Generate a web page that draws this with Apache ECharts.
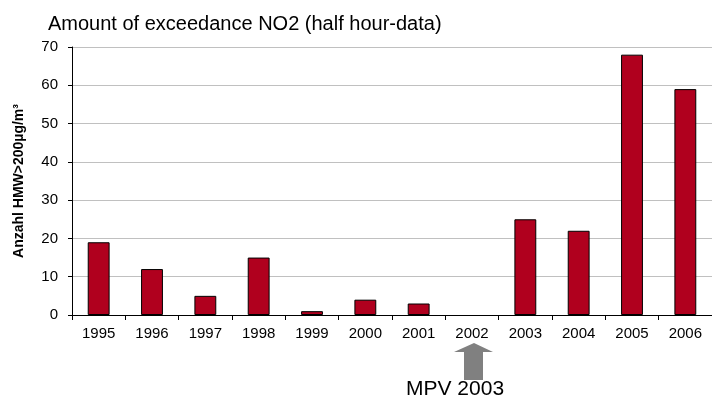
<!DOCTYPE html>
<html>
<head>
<meta charset="utf-8">
<script src="https://cdn.jsdelivr.net/npm/echarts@6/dist/echarts.min.js"></script>
<style>
  html, body { margin: 0; padding: 0; background: #fff; }
  #chart { width: 712px; height: 406px; }
</style>
</head>
<body>
<div id="chart"></div>
<script>
// years on the x axis
var years = ['1995', '1996', '1997', '1998', '1999', '2000', '2001', '2002', '2003', '2004', '2005', '2006'];
// number of half-hour values above 200 µg/m³
var exceedances = [19, 12, 5, 15, 1, 4, 3, 0, 25, 22, 68, 59];
var yTicks = [0, 10, 20, 30, 40, 50, 60, 70];
var markYear = '2002';

var chart = echarts.init(document.getElementById('chart'));

// a zero bar has no outline in the original
var barData = exceedances.map(function(v) {
    return v === 0 ? { value: v, itemStyle: { borderWidth: 0 } } : v;
});

var option = {
    animation: false,
    title: {
        text: 'Amount of exceedance NO2 (half hour-data)',
        left: 43,
        top: 9,
        textStyle: { fontFamily: 'Liberation Sans, Arial', fontSize: 20, fontWeight: 'normal', color: '#000' }
    },
    grid: { left: 72, top: 47, bottom: 91, right: -6 },
    xAxis: {
        type: 'category',
        data: years,
        axisLine: { lineStyle: { color: '#000', width: 1 } },
        axisTick: { show: true, alignWithLabel: false, length: 5, lineStyle: { color: '#000' } },
        axisLabel: { color: '#000', fontFamily: 'Liberation Sans, Arial', fontSize: 15, margin: 11 }
    },
    yAxis: {
        type: 'value',
        min: yTicks[0],
        max: yTicks[yTicks.length - 1],
        interval: 10,
        name: 'Anzahl HMW>200µg/m³',
        nameLocation: 'middle',
        nameRotate: 90,
        nameGap: 46,
        nameTextStyle: { fontFamily: 'Liberation Sans, Arial', fontSize: 14, fontWeight: 'bold', color: '#000' },
        axisLine: { show: true, lineStyle: { color: '#000', width: 1 } },
        axisTick: { show: true, length: 4, inside: false, lineStyle: { color: '#000' } },
        axisLabel: { color: '#000', fontFamily: 'Liberation Sans, Arial', fontSize: 15, margin: 14 },
        splitLine: { lineStyle: { color: '#c0c0c0', width: 1 } }
    },
    series: [{
        type: 'bar',
        data: barData,
        barWidth: '41%',
        itemStyle: { color: '#b0001e', borderColor: '#000', borderWidth: 1 }
    }]
};
chart.setOption(option);

// arrow + label under the year the MPV came in
var cx = chart.convertToPixel({ xAxisIndex: 0 }, markYear) + 2;
chart.setOption({
    graphic: [
        {
            type: 'polygon',
            shape: {
                points: [
                    [cx, 343], [cx + 19, 352], [cx + 9, 352], [cx + 9, 380],
                    [cx - 10, 380], [cx - 10, 352], [cx - 20, 352]
                ]
            },
            style: { fill: '#808080' }
        },
        {
            type: 'text',
            left: 406,
            top: 379,
            style: { text: 'MPV 2003', font: '21px Liberation Sans, Arial', fill: '#000' }
        }
    ]
});
</script>
</body>
</html>
